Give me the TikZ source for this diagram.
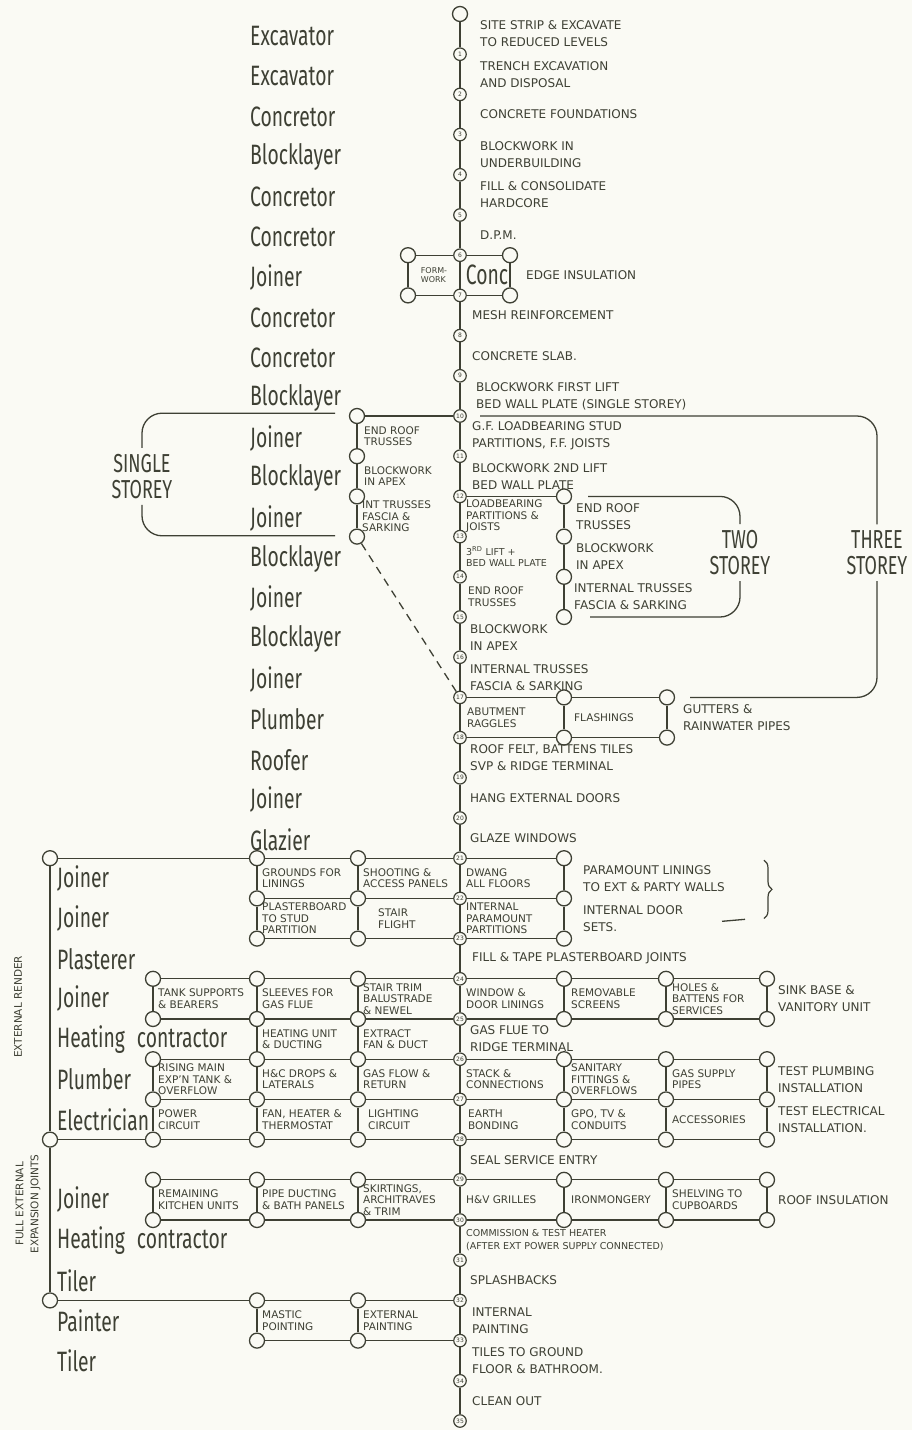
\documentclass[tikz,border=0pt]{standalone}
\usepackage{fontspec}
\setmainfont{DejaVu Sans}
\newfontfamily\tradefont[FakeStretch=0.69]{Fira Sans}
\usetikzlibrary{decorations.pathreplacing}
\definecolor{ink}{RGB}{62,64,52}
\definecolor{paper}{RGB}{250,250,244}

\begin{document}
\begin{tikzpicture}[
  x=1pt,
  y=-40.2pt,
  link/.style={draw=ink, line width=1.3pt},
  ring/.style={circle, draw=ink, fill=paper, line width=1.3pt, minimum size=15pt, inner sep=0pt},
  spot/.style={circle, draw=ink, fill=paper, line width=1.2pt, minimum size=12.5pt, inner sep=0pt, text=ink, font=\fontsize{6}{6}\selectfont},
  trade/.style={anchor=west, text=ink, inner sep=0pt, font=\tradefont\fontsize{28}{30}\selectfont},
  job/.style={anchor=west, text=ink, align=left, inner sep=0pt, font=\fontsize{12}{17}\selectfont},
  boxtext/.style={anchor=west, text=ink, align=left, inner sep=0pt, font=\fontsize{10.5}{11.5}\selectfont},
  storey/.style={text=ink, align=center, inner sep=6pt, font=\tradefont\fontsize{26}{26}\selectfont},
  bracket/.style={draw=ink, line width=1.3pt, rounded corners=20pt},
  note/.style={text=ink, align=center, inner sep=0pt, rotate=90, font=\fontsize{10.5}{15}\selectfont}
]
\useasboundingbox (0,-0.3483) rectangle (912,35.2239);
\fill[paper] (0,-0.3483) rectangle (912,35.2239);

% main sequence
\node[ring] (s0) at (460,0) {};
\foreach \i in {1,...,35}
  \node[spot] (s\i) at (460,\i) {\i};
\foreach \i [evaluate=\i as \j using int(\i+1)] in {0,...,34}
  \draw[link] (s\i) -- (s\j);

% formwork and edge concrete
\node[ring] (fw6) at (408,6) {};
\node[ring] (fw7) at (408,7) {};
\node[ring] (cc6) at (510,6) {};
\node[ring] (cc7) at (510,7) {};
\draw[link] (fw6) -- (s6) -- (cc6) -- (cc7) -- (s7) -- (fw7) -- (fw6);

% single storey roof
\foreach \r in {10,...,13}
  \node[ring] (c\r) at (357,\r) {};
\draw[link] (s10) -- (c10) -- (c11) -- (c12) -- (c13);
\draw[link, dash pattern=on 8pt off 6pt] (c13) -- (s17);

% two storey roof
\foreach \r in {12,...,15}
  \node[ring] (d\r) at (564,\r) {};
\draw[link] (s12) -- (d12) -- (d13) -- (d14) -- (d15);

% flashings
\foreach \r in {17,18} {
  \node[ring] (d\r) at (564,\r) {};
  \node[ring] (e\r) at (667,\r) {};
  \draw[link] (s\r) -- (d\r) -- (e\r);
}
\draw[link] (d17) -- (d18) (e17) -- (e18);

% linings
\node[ring] (l21) at (50,21) {};
\node[ring] (l28) at (50,28) {};
\node[ring] (l32) at (50,32) {};
\foreach \r in {21,22,23} {
  \node[ring] (b\r) at (257,\r) {};
  \node[ring] (c\r) at (358,\r) {};
  \node[ring] (d\r) at (564,\r) {};
  \draw[link] (b\r) -- (c\r) -- (s\r) -- (d\r);
}
\draw[link] (l21) -- (b21);
\foreach \col in {b,c,d}
  \draw[link] (\col21) -- (\col22) -- (\col23);

% services and second fix
\foreach \r in {24,...,30} {
  \foreach \col/\xx in {a/153,b/257,c/358,d/564,e/666,f/767}
    \node[ring] (\col\r) at (\xx,\r) {};
  \draw[link] (a\r) -- (b\r) -- (c\r) -- (s\r) -- (d\r) -- (e\r) -- (f\r);
}
\foreach \col in {a,b,c,d,e,f}
  \draw[link] (\col24) -- (\col25) (\col26) -- (\col27) -- (\col28) (\col29) -- (\col30);
\draw[link] (b25) -- (b26) (c25) -- (c26);
\draw[link] (l21) -- (l28) -- (l32);
\draw[link] (l28) -- (a28);

% painting
\foreach \r in {32,33} {
  \node[ring] (b\r) at (257,\r) {};
  \node[ring] (c\r) at (358,\r) {};
  \draw[link] (b\r) -- (c\r) -- (s\r);
}
\draw[link] (l32) -- (b32);
\draw[link] (b32) -- (b33) (c32) -- (c33);

% storey brackets
\node[storey] (single) at (142,11.5) {SINGLE\\STOREY};
\node[storey] (two) at (740,13.4) {TWO\\STOREY};
\node[storey] (three) at (877,13.4) {THREE\\STOREY};
\draw[bracket] (335,9.93) -| (single.north);
\draw[bracket] (single.south) |- (335,12.98);
\draw[bracket] (588,12) -| (two.north);
\draw[bracket] (two.south) |- (590,15);
\draw[bracket] (480,10) -| (three.north);
\draw[bracket] (three.south) |- (690,17);

% trades
\foreach \r/\t in {0/Excavator,1/Excavator,2/Concretor,3/Blocklayer,4/Concretor,5/Concretor,6/Joiner,7/Concretor,8/Concretor,9/Blocklayer,10/Joiner,11/Blocklayer,12/Joiner,13/Blocklayer,14/Joiner,15/Blocklayer,16/Joiner,17/Plumber,18/Roofer,19/Joiner,20/Glazier}
  \node[trade] (trade\r) at (250,\r+0.55) {\t};
\foreach \r/\t in {21/Joiner,22/Joiner,23/Plasterer,24/Joiner,25/Heating\hspace{12pt}contractor,26/Plumber,27/Electrician,29/Joiner,30/Heating\hspace{12pt}contractor,31/Tiler,32/Painter,33/Tiler}
  \node[trade] (trade\r) at (57,\r+0.5) {\t};

% operations on the main line
\node[job] (j0) at (480,0.5) {SITE STRIP \& EXCAVATE\\TO REDUCED LEVELS};
\node[job] (j1) at (480,1.5) {TRENCH EXCAVATION\\AND DISPOSAL};
\node[job] (j2) at (480,2.5) {CONCRETE FOUNDATIONS};
\node[job] (j3) at (480,3.5) {BLOCKWORK IN\\UNDERBUILDING};
\node[job] (j4) at (480,4.5) {FILL \& CONSOLIDATE\\HARDCORE};
\node[job] (j5) at (480,5.5) {D.P.M.};
\node[boxtext, anchor=center, font=\fontsize{8}{9.5}\selectfont] (form6) at (434,6.5) {FORM-\\WORK};
\node[trade, anchor=center] (conc6) at (487,6.5) {Conc};
\node[job] (j6) at (526,6.5) {EDGE INSULATION};
\node[job] (j7) at (472,7.5) {MESH REINFORCEMENT};
\node[job] (j8) at (472,8.5) {CONCRETE SLAB.};
\node[job] (j9) at (476,9.5) {BLOCKWORK FIRST LIFT\\BED WALL PLATE (SINGLE STOREY)};
\node[job] (j10) at (472,10.5) {G.F. LOADBEARING STUD\\PARTITIONS, F.F. JOISTS};
\node[job] (j11) at (472,11.5) {BLOCKWORK 2ND LIFT\\BED WALL PLATE};
\node[boxtext] (j12) at (466,12.5) {LOADBEARING\\PARTITIONS \&\\JOISTS};
\node[boxtext, font=\fontsize{9.5}{11.5}\selectfont] (j13) at (466,13.5) {3\textsuperscript{RD} LIFT +\\BED WALL PLATE};
\node[boxtext] (j14) at (468,14.5) {END ROOF\\TRUSSES};
\node[job] (j15) at (470,15.5) {BLOCKWORK\\IN APEX};
\node[job] (j16) at (470,16.5) {INTERNAL TRUSSES\\FASCIA \& SARKING};
\node[boxtext] (j17) at (467,17.5) {ABUTMENT\\RAGGLES};
\node[boxtext] (fl17) at (574,17.5) {FLASHINGS};
\node[job] (gu17) at (683,17.5) {GUTTERS \&\\RAINWATER PIPES};
\node[job] (j18) at (470,18.5) {ROOF FELT, BATTENS TILES\\SVP \& RIDGE TERMINAL};
\node[job] (j19) at (470,19.5) {HANG EXTERNAL DOORS};
\node[job] (j20) at (470,20.5) {GLAZE WINDOWS};

% single and two storey alternatives
\node[boxtext] (sg10) at (364,10.5) {END ROOF\\TRUSSES};
\node[boxtext] (sg11) at (364,11.5) {BLOCKWORK\\IN APEX};
\node[boxtext] (sg12) at (362,12.5) {INT TRUSSES\\FASCIA \&\\SARKING};
\node[job] (tw12) at (576,12.5) {END ROOF\\TRUSSES};
\node[job] (tw13) at (576,13.5) {BLOCKWORK\\IN APEX};
\node[job] (tw14) at (574,14.5) {INTERNAL TRUSSES\\FASCIA \& SARKING};

% linings
\node[boxtext] (b21t) at (262,21.5) {GROUNDS FOR\\LININGS};
\node[boxtext] (c21t) at (363,21.5) {SHOOTING \&\\ACCESS PANELS};
\node[boxtext] (j21) at (466,21.5) {DWANG\\ALL FLOORS};
\node[job] (pl21) at (583,21.5) {PARAMOUNT LININGS\\TO EXT \& PARTY WALLS};
\node[boxtext] (b22t) at (262,22.5) {PLASTERBOARD\\TO STUD\\PARTITION};
\node[boxtext] (c22t) at (378,22.5) {STAIR\\FLIGHT};
\node[boxtext] (j22) at (466,22.5) {INTERNAL\\PARAMOUNT\\PARTITIONS};
\node[job] (ds22) at (583,22.5) {INTERNAL DOOR\\SETS.};
\draw[link] (722,22.57) -- (745,22.52);
\draw[ink, line width=1.2pt, decorate, decoration={brace, amplitude=8pt}] (764,21.05) -- (764,22.5);
\node[job] (j23) at (472,23.5) {FILL \& TAPE PLASTERBOARD JOINTS};

% first and second fix services
\node[boxtext] (a24t) at (158,24.5) {TANK SUPPORTS\\\& BEARERS};
\node[boxtext] (b24t) at (262,24.5) {SLEEVES FOR\\GAS FLUE};
\node[boxtext] (c24t) at (363,24.5) {STAIR TRIM\\BALUSTRADE\\\& NEWEL};
\node[boxtext] (j24) at (466,24.5) {WINDOW \&\\DOOR LININGS};
\node[boxtext] (d24t) at (571,24.5) {REMOVABLE\\SCREENS};
\node[boxtext] (e24t) at (672,24.5) {HOLES \&\\BATTENS FOR\\SERVICES};
\node[job] (f24t) at (778,24.5) {SINK BASE \&\\VANITORY UNIT};
\node[boxtext] (b25t) at (262,25.5) {HEATING UNIT\\\& DUCTING};
\node[boxtext] (c25t) at (363,25.5) {EXTRACT\\FAN \& DUCT};
\node[job] (j25) at (470,25.5) {GAS FLUE TO\\RIDGE TERMINAL};
\node[boxtext] (a26t) at (158,26.5) {RISING MAIN\\EXP'N TANK \&\\OVERFLOW};
\node[boxtext] (b26t) at (262,26.5) {H\&C DROPS \&\\LATERALS};
\node[boxtext] (c26t) at (363,26.5) {GAS FLOW \&\\RETURN};
\node[boxtext] (j26) at (466,26.5) {STACK \&\\CONNECTIONS};
\node[boxtext] (d26t) at (571,26.5) {SANITARY\\FITTINGS \&\\OVERFLOWS};
\node[boxtext] (e26t) at (672,26.5) {GAS SUPPLY\\PIPES};
\node[job] (f26t) at (778,26.5) {TEST PLUMBING\\INSTALLATION};
\node[boxtext] (a27t) at (158,27.5) {POWER\\CIRCUIT};
\node[boxtext] (b27t) at (262,27.5) {FAN, HEATER \&\\THERMOSTAT};
\node[boxtext] (c27t) at (368,27.5) {LIGHTING\\CIRCUIT};
\node[boxtext] (j27) at (468,27.5) {EARTH\\BONDING};
\node[boxtext] (d27t) at (571,27.5) {GPO, TV \&\\CONDUITS};
\node[boxtext] (e27t) at (672,27.5) {ACCESSORIES};
\node[job] (f27t) at (778,27.5) {TEST ELECTRICAL\\INSTALLATION.};
\node[job] (j28) at (470,28.5) {SEAL SERVICE ENTRY};

% finishing
\node[boxtext] (a29t) at (158,29.5) {REMAINING\\KITCHEN UNITS};
\node[boxtext] (b29t) at (262,29.5) {PIPE DUCTING\\\& BATH PANELS};
\node[boxtext] (c29t) at (363,29.5) {SKIRTINGS,\\ARCHITRAVES\\\& TRIM};
\node[boxtext] (j29) at (466,29.5) {H\&V GRILLES};
\node[boxtext] (d29t) at (571,29.5) {IRONMONGERY};
\node[boxtext] (e29t) at (672,29.5) {SHELVING TO\\CUPBOARDS};
\node[job] (f29t) at (778,29.5) {ROOF INSULATION};
\node[boxtext, font=\fontsize{9.5}{13}\selectfont] (j30) at (466,30.5) {COMMISSION \& TEST HEATER\\(AFTER EXT POWER SUPPLY CONNECTED)};
\node[job] (j31) at (470,31.5) {SPLASHBACKS};
\node[boxtext] (b32t) at (262,32.5) {MASTIC\\POINTING};
\node[boxtext] (c32t) at (363,32.5) {EXTERNAL\\PAINTING};
\node[job] (j32) at (472,32.5) {INTERNAL\\PAINTING};
\node[job] (j33) at (472,33.5) {TILES TO GROUND\\FLOOR \& BATHROOM.};
\node[job] (j34) at (472,34.5) {CLEAN OUT};

% side notes
\node[note] (render) at (18,24.7) {EXTERNAL RENDER};
\node[note] (joints) at (28,29.6) {FULL EXTERNAL\\EXPANSION JOINTS};
\end{tikzpicture}
\end{document}
